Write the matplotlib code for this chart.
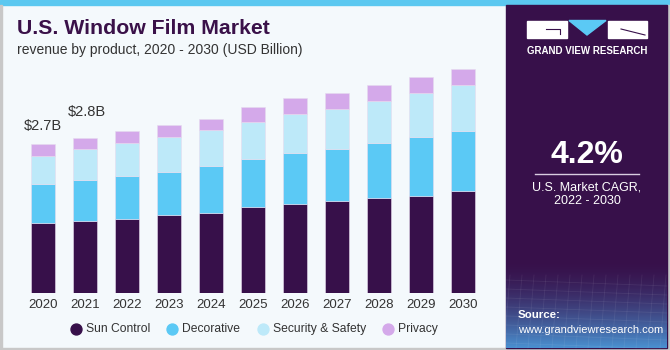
import numpy as np
import matplotlib
matplotlib.use("Agg")
import matplotlib.pyplot as plt
from matplotlib.patches import Rectangle, Polygon

plt.rcParams['font.family'] = ['Liberation Sans', 'DejaVu Sans']

years = ["2020", "2021", "2022", "2023", "2024", "2025", "2026", "2027", "2028", "2029", "2030"]
sun_control = [1.27, 1.30, 1.34, 1.41, 1.45, 1.56, 1.62, 1.66, 1.73, 1.76, 1.84]
decorative = [0.70, 0.74, 0.78, 0.78, 0.85, 0.87, 0.92, 0.95, 0.98, 1.06, 1.09]
security = [0.52, 0.56, 0.60, 0.63, 0.66, 0.67, 0.70, 0.73, 0.77, 0.81, 0.84]
privacy = [0.21, 0.21, 0.21, 0.22, 0.20, 0.27, 0.29, 0.29, 0.28, 0.28, 0.28]
series_names = ["Sun Control", "Decorative", "Security & Safety", "Privacy"]
value_labels = {0: "$2.7B", 1: "$2.8B"}

colors = ["#37104a", "#5bc9f5", "#bde9f9", "#d4a9ea"]
W, H = 670, 350

fig = plt.figure(figsize=(6.7, 3.5), dpi=100)
fig.patch.set_facecolor("#f4f9fc")

def px(x0, y0, w, h):
    # pixel box (top-left origin) -> figure fraction
    return [x0 / W, 1 - (y0 + h) / H, w / W, h / H]

# background decorations
bg = fig.add_axes([0, 0, 1, 1])
bg.set_xlim(0, W)
bg.set_ylim(H, 0)
bg.axis("off")
bg.add_patch(Rectangle((0, 0), W, 5, color="#5bc8f0", zorder=1))
bg.add_patch(Rectangle((0, 5), 1.5, H, color="#c8c8c8", zorder=1))
bg.add_patch(Rectangle((0, H - 2), W, 2, color="#c8c8c8", zorder=1))
bg.add_patch(Rectangle((W - 3, 5), 3, H, color="#c8c8c8", zorder=1))
bg.add_patch(Rectangle((506, 5), 161, H - 7, color="#37104a", zorder=1))

# gradient at the bottom of the right panel
grad = np.linspace(0, 1, 100).reshape(-1, 1)
c0 = np.array([0x37, 0x10, 0x4a]) / 255
c1 = np.array([0x4a, 0x90, 0xd0]) / 255
img = (c0 + (c1 - c0) * grad[..., None] ** 1.6).reshape(100, 1, 3)
bg.imshow(img, extent=(506, 667, H - 2, 260), aspect="auto", zorder=2)
for k in range(8):
    yy = 280 + k * 9
    bg.plot([506, 667], [yy, yy + 6], color="white", alpha=0.07, lw=0.6, zorder=3)
for k in range(14):
    xx = 510 + k * 12
    bg.plot([xx, xx - 6], [275, H - 2], color="white", alpha=0.07, lw=0.6, zorder=3)

# logo
bg.add_patch(Rectangle((527, 20.5), 40, 17.5, color="white", zorder=4))
bg.plot([546, 560, 560], [29, 29, 34], color="#37104a", lw=0.8, zorder=5)
bg.add_patch(Polygon([(569, 20.5), (606, 20.5), (587, 35)], color="#5bc9f5", zorder=4))
bg.add_patch(Rectangle((608, 20.5), 39, 17.5, color="white", zorder=4))
bg.plot([621, 645], [29, 35], color="#37104a", lw=0.8, zorder=5)
bg.text(587, 51, "GRAND VIEW RESEARCH", color="white", fontsize=7, fontweight="bold",
        ha="center", va="center", zorder=5)

# CAGR block
bg.text(587, 155, "4.2%", color="white", fontsize=23, fontweight="bold",
        ha="center", va="center", zorder=5)
bg.plot([535, 639], [173.5, 173.5], color="#d8cce0", lw=1, zorder=5)
bg.text(587, 187, "U.S. Market CAGR,", color="white", fontsize=9,
        ha="center", va="center", zorder=5)
bg.text(587, 201, "2022 - 2030", color="white", fontsize=9,
        ha="center", va="center", zorder=5)
bg.text(518, 315, "Source:", color="white", fontsize=8.2, fontweight="bold",
        ha="left", va="center", zorder=5)
bg.text(518, 330, "www.grandviewresearch.com", color="white", fontsize=8,
        ha="left", va="center", zorder=5)

# titles
fig.text(17 / W, 1 - 28 / H, "U.S. Window Film Market", color="#3a1149",
         fontsize=15.3, fontweight="heavy", ha="left", va="center")
fig.text(17 / W, 1 - 50 / H, "revenue by product, 2020 - 2030 (USD Billion)",
         color="#333333", fontsize=10, ha="left", va="center")

# bar chart
ax = fig.add_axes(px(22, 60, 462, 233))
ax.set_facecolor("none")
x = np.arange(len(years))
data = [sun_control, decorative, security, privacy]
bottom = np.zeros(len(years))
for vals, c, name in zip(data, colors, series_names):
    ax.bar(x, vals, width=0.58, bottom=bottom, color=c, label=name,
           edgecolor="#e6dcef", linewidth=0.4)
    bottom += np.array(vals)
label_gap = {0: 0.2, 1: 0.35}
for i, lab in value_labels.items():
    ax.text(x[i] + 0.04 * i, bottom[i] + label_gap[i], lab, ha="center", va="bottom",
            fontsize=10.5, color="#333333")
ax.set_xlim(-0.5, len(years) - 0.5)
ax.set_ylim(0, 233 / 55.2)
ax.set_xticks(x)
ax.set_xticklabels(years, fontsize=9.5, color="#333333")
ax.tick_params(axis="x", length=0, pad=4)
ax.set_yticks([])
for s in ax.spines.values():
    s.set_visible(False)

# legend, drawn by hand to match the spacing
legend_x = [76, 172, 263, 388]
for lx, c, name in zip(legend_x, colors, series_names):
    bg.scatter([lx], [329], s=62, color=c, zorder=5)
    bg.text(lx + 10, 329, name, fontsize=8.7, color="#333333", ha="left", va="center", zorder=5)

fig.savefig("out.png", dpi=100, facecolor=fig.get_facecolor())
